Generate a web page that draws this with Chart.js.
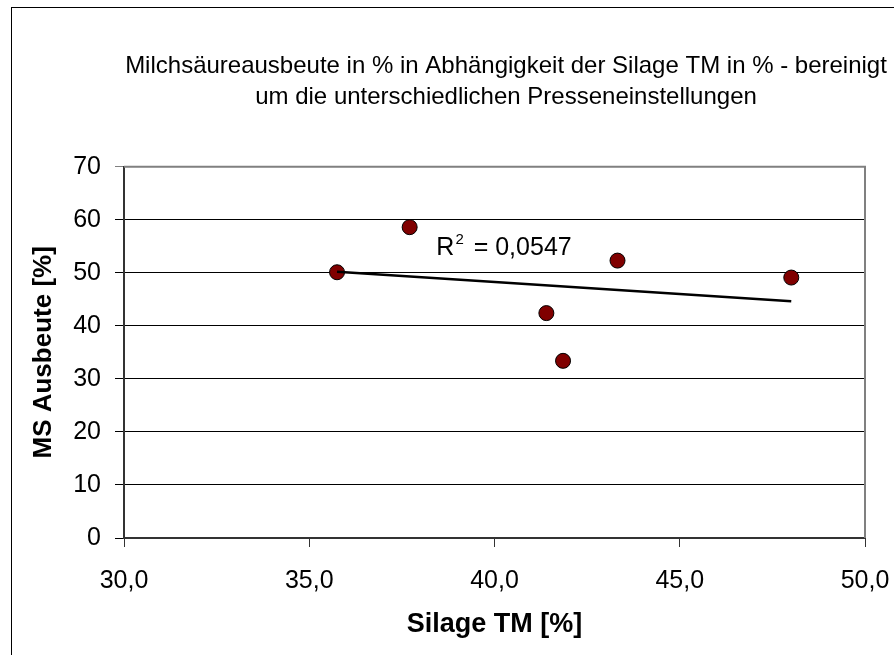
<!DOCTYPE html>
<html>
<head>
<meta charset="utf-8">
<script src="https://cdn.jsdelivr.net/npm/chart.js@4"></script>
<style>
  html, body { margin: 0; padding: 0; background: #fff; overflow: hidden; }
  #wrap { position: absolute; left: 0; top: 0; width: 1012px; height: 655px; }
</style>
</head>
<body>
<div id="wrap"><canvas id="chart"></canvas></div>
<script>
// Silage TM [%] and MS Ausbeute [%]
const silageTM = [35.75, 37.71, 41.40, 41.85, 43.32, 48.01];
const msAusbeute = [50.1, 58.6, 42.4, 33.4, 52.3, 49.1];
const xTicks = [30, 35, 40, 45, 50];
const yTicks = [0, 10, 20, 30, 40, 50, 60, 70];
const r2Text = '0,0547';
const r2Pos = [38.43, 53.3]; // where the R² label sits, in data units

const font = 'Liberation Sans, Arial, sans-serif';

// linear trendline (least squares), like Excel's
function linearFit(xs, ys){
	let n = xs.length, mx = 0, my = 0;
	for (let i = 0; i < n; i++) { mx += xs[i]; my += ys[i]; }
	mx /= n; my /= n;
	let sxy = 0, sxx = 0;
	for (let i = 0; i < n; i++) { sxy += (xs[i]-mx)*(ys[i]-my); sxx += (xs[i]-mx)*(xs[i]-mx); }
	const slope = sxy / sxx;
	return function(x){ return my + slope*(x - mx); };
}
const fit = linearFit(silageTM, msAusbeute);
const xMin = Math.min(...silageTM), xMax = Math.max(...silageTM);
const trend = [{x: xMin, y: fit(xMin)}, {x: xMax, y: fit(xMax)}];

const points = silageTM.map((x, i) => ({x: x, y: msAusbeute[i]}));

const framePlugin = {
	id: 'frame',
	beforeDraw(chart){
		const c = chart.ctx;
		c.save();
		c.fillStyle = '#fff';
		c.fillRect(0, 0, chart.width, chart.height);
		c.strokeStyle = '#000';
		c.lineWidth = 1;
		c.strokeRect(11.5, 7.5, chart.width + 50, chart.height + 50);
		c.restore();
	},
	beforeDatasetsDraw(chart){
		const a = chart.chartArea, c = chart.ctx;
		c.save();
		c.strokeStyle = '#808080';
		c.lineWidth = 2;
		c.beginPath();
		c.moveTo(a.left, a.top);
		c.lineTo(a.right, a.top);
		c.lineTo(a.right, a.bottom);
		c.stroke();
		c.restore();
	},
	afterDraw(chart){
		const c = chart.ctx;
		const x = chart.scales.x.getPixelForValue(r2Pos[0]);
		const y = chart.scales.y.getPixelForValue(r2Pos[1]);
		c.save();
		c.fillStyle = '#000';
		c.textBaseline = 'alphabetic';
		c.textAlign = 'left';
		c.font = '25px ' + font;
		c.fillText('R', x, y);
		let w = c.measureText('R').width + 1;
		c.font = '15px ' + font;
		c.fillText('2', x + w, y - 11);
		w += c.measureText('2').width + 3;
		c.font = '25px ' + font;
		c.fillText(' = ' + r2Text, x + w, y);
		c.restore();
	}
};

new Chart(document.getElementById('chart'), {
	type: 'scatter',
	data: {
		datasets: [{
			label: 'MS Ausbeute',
			data: points,
			backgroundColor: '#800000',
			borderColor: '#000',
			borderWidth: 1,
			pointRadius: 7.5,
			order: 2
		}, {
			type: 'line',
			label: 'Trend',
			data: trend,
			borderColor: '#000',
			borderWidth: 2.5,
			pointRadius: 0,
			fill: false,
			order: 1
		}]
	},
	options: {
		responsive: true,
		maintainAspectRatio: false,
		animation: false,
		layout: { padding: 0 },
		plugins: {
			legend: { display: false },
			tooltip: { enabled: false },
			title: {
				display: true,
				text: ['Milchsäureausbeute in % in Abhängigkeit der Silage TM in % - bereinigt', 'um die unterschiedlichen Presseneinstellungen'],
				color: '#000',
				font: { family: font, size: 24, weight: 'normal', lineHeight: 1.3 },
				padding: { top: 50.8, bottom: 53.5 }
			}
		},
		scales: {
			x: {
				type: 'linear',
				min: 30,
				max: 50,
				afterBuildTicks(scale){ scale.ticks = xTicks.map(v => ({value: v})); },
				afterFit(scale){ scale.height = 117; },
				ticks: {
					color: '#000',
					font: { family: font, size: 25 },
					padding: 19,
					maxRotation: 0,
					callback: v => v.toFixed(1).replace('.', ',')
				},
				grid: { drawOnChartArea: false, drawTicks: true, tickLength: 9, color: '#333', lineWidth: 1 },
				border: { color: '#333', width: 2 },
				title: {
					display: true,
					text: 'Silage TM [%]',
					color: '#000',
					font: { family: font, size: 27, weight: 'bold' },
					padding: { top: 0, bottom: 14 }
				}
			},
			y: {
				min: 0,
				max: 70,
				afterBuildTicks(scale){ scale.ticks = yTicks.map(v => ({value: v})); },
				afterFit(scale){ scale.width = 124; },
				ticks: {
					color: '#000',
					font: { family: font, size: 25 },
					padding: 14
				},
				grid: {
					drawTicks: true,
					tickLength: 9,
					lineWidth: 1,
					color: ctx => ctx.tick && ctx.tick.value === 70 ? '#808080' : '#000'
				},
				border: { color: '#333', width: 2 },
				title: {
					display: true,
					text: 'MS Ausbeute [%]',
					color: '#000',
					font: { family: font, size: 26, weight: 'bold' },
					padding: { top: 28, bottom: 0 }
				}
			},
			// empty right-hand box: keeps the plot where the original has it
			// while the title stays centred on the full (wider) chart
			yRight: {
				type: 'linear',
				position: 'right',
				display: true,
				grid: { display: false },
				ticks: { display: false },
				border: { display: false },
				afterFit(scale){ scale.width = 147; }
			}
		}
	},
	plugins: [framePlugin]
});
</script>
</body>
</html>
